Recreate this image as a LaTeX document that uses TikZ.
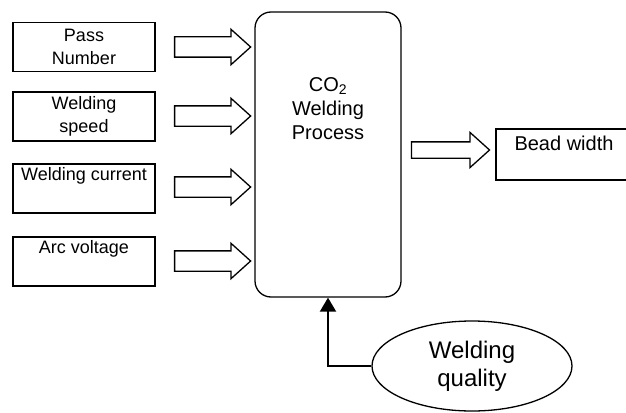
\documentclass[tikz,border=0pt]{standalone}
\usepackage{fontspec}
\setmainfont{Liberation Sans}
\usetikzlibrary{shapes.arrows,shapes.geometric,arrows.meta}
\begin{document}
\begin{tikzpicture}[x=1pt,y=-1pt,
  inbox/.style={draw,line width=1.3pt,minimum width=142pt,minimum height=49pt,inner sep=0pt,align=center,font=\fontsize{18}{23}\selectfont},
  blockarrow/.style={single arrow,draw,line width=1.3pt,inner xsep=0pt,inner ysep=9.5pt,minimum height=76pt,minimum width=34pt,single arrow head extend=7.5pt,single arrow tip angle=84},
  procbox/.style={draw,line width=1.3pt,rounded corners=16pt,minimum width=146pt,minimum height=285pt,inner sep=0pt},
  outbox/.style={draw,line width=1.3pt,minimum width=136pt,minimum height=51pt,inner sep=0pt,text height=14pt,text depth=23pt,font=\fontsize{20}{24}\selectfont},
  ovalbox/.style={ellipse,draw,line width=1.3pt,minimum width=200pt,minimum height=90pt,inner sep=0pt,align=center,font=\fontsize{24}{28}\selectfont},
  feedback/.style={line width=2pt,-{Triangle[length=14pt,width=16pt]}}
]
\useasboundingbox (0,0) rectangle (626,412);
\clip (0,0) rectangle (626,412);
\fill[white] (0,0) rectangle (626,412);

\node[inbox] (in1) at (84,47) {Pass\\Number};
\node[inbox] (in2) at (84,116.5) {Welding\\speed};
\node[inbox] (in3) at (84,188.5) {Welding current\\\strut};
\node[inbox] (in4) at (84,261.5) {Arc voltage\\\strut};

\node[procbox,label={[align=center,yshift=46pt,font=\fontsize{20}{24}\selectfont]center:CO\textsubscript{2}\\Welding\\Process}] (proc) at (328,154.5) {};

\node[blockarrow] (a1) at (207,47) {};
\node[blockarrow] (a2) at (207,116) {};
\node[blockarrow] (a3) at (207,187) {};
\node[blockarrow] (a4) at (207,261) {};

\node[blockarrow,inner ysep=7.5pt,minimum height=78pt,single arrow head extend=9.5pt] (aout) at (446,150) {};

\node[outbox] (out) at (564,154.5) {Bead width};

\node[ovalbox] (qual) at (472,366) {Welding\\quality};

\draw[feedback] (qual.west) -| (proc.south);
\end{tikzpicture}
\end{document}
